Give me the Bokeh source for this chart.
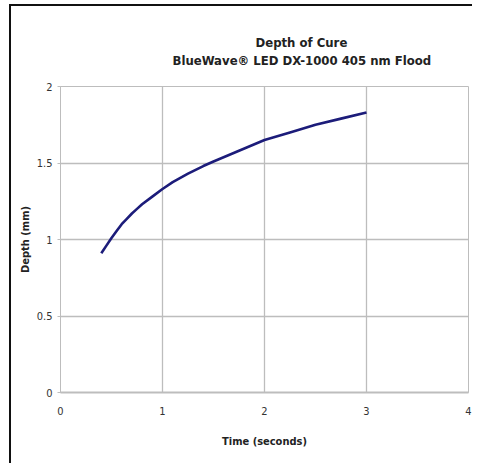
from bokeh.plotting import figure
from bokeh.models import Range1d, FixedTicker, Title
from bokeh.embed import file_html
from bokeh.resources import INLINE

# Data
time_s = [0.4, 0.45, 0.5, 0.55, 0.6, 0.65, 0.7, 0.75, 0.8, 0.9, 1.0, 1.1, 1.25, 1.4, 1.5,
          1.75, 2.0, 2.25, 2.5, 2.75, 3.0]
depth_mm = [0.91, 0.96, 1.01, 1.055, 1.10, 1.135, 1.17, 1.20, 1.23, 1.28, 1.33, 1.375, 1.43,
            1.48, 1.51, 1.58, 1.65, 1.70, 1.75, 1.79, 1.83]

x_ticks = [0, 1, 2, 3, 4]
y_ticks = [0, 0.5, 1, 1.5, 2]
y_tick_labels = ["0", "0.5", "1", "1.5", "2"]
title_lines = ["Depth of Cure", "BlueWave\u00ae LED DX-1000 405 nm Flood"]
x_label = "Time (seconds)"
y_label = "Depth (mm)"

FONT = "DejaVu Sans Condensed, Liberation Sans, sans-serif"
GRID = "#bdbdbd"

p = figure(width=463, height=459, output_backend="svg", toolbar_location=None,
           x_range=Range1d(0, 4), y_range=Range1d(0, 2),
           min_border_left=49, min_border_right=6, min_border_top=80, min_border_bottom=73)
p.title.visible = False
p.styles = {"border-top": "2px solid #111111", "border-left": "2px solid #111111",
            "margin-top": "4px", "margin-left": "9px"}

p.line(time_s, depth_mm, line_color="#1c1c7a", line_width=2.6)

p.xaxis.ticker = FixedTicker(ticks=x_ticks)
p.yaxis.ticker = FixedTicker(ticks=y_ticks)
p.yaxis.major_label_overrides = {t: l for t, l in zip(y_ticks, y_tick_labels)}
p.xaxis.minor_tick_line_color = None
p.yaxis.minor_tick_line_color = None

for ax in (p.xaxis, p.yaxis):
    ax.axis_line_color = GRID
    ax.major_tick_line_color = GRID
    ax.major_label_text_font = FONT
    ax.major_label_text_font_size = "11px"
    ax.major_label_text_color = "#333333"
    ax.axis_label_text_font = FONT
    ax.axis_label_text_font_style = "bold"
    ax.axis_label_text_font_size = "11px"
    ax.axis_label_text_color = "#222222"

p.xaxis.axis_label = x_label
p.yaxis.axis_label = y_label
p.xaxis.axis_line_width = 2
p.xaxis.major_tick_out = 0
p.xaxis.major_tick_in = 0
p.xaxis.major_label_standoff = 14
p.xaxis.axis_label_standoff = 17
p.yaxis.major_tick_out = 3
p.yaxis.major_tick_in = 0
p.yaxis.major_label_standoff = 5
p.yaxis.axis_label_standoff = 2

p.xgrid.grid_line_color = GRID
p.ygrid.grid_line_color = GRID
p.xgrid.grid_line_width = 1.3
p.ygrid.grid_line_width = 1.3
p.outline_line_color = GRID

# subtitle first (nearest the frame), then the main title above it
for txt, sto, off in [(title_lines[1], 38, 112), (title_lines[0], -37, 195)]:
    p.add_layout(Title(text=txt, align="left", offset=off, standoff=sto,
                       text_font=FONT, text_font_style="bold", text_font_size="13px",
                       text_color="#222222"), "above")

open("out.html", "w").write(file_html(p, INLINE))
